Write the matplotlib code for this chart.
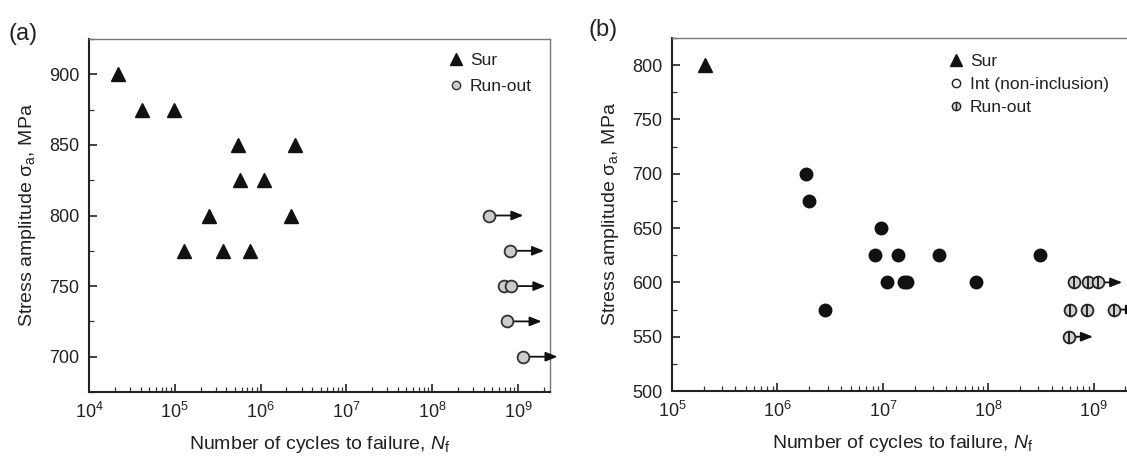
import matplotlib
matplotlib.use("Agg")
import matplotlib.pyplot as plt
import numpy as np
from matplotlib.lines import Line2D
from matplotlib.legend_handler import HandlerTuple
from matplotlib.ticker import MultipleLocator, LogLocator, NullFormatter

plt.rcParams['font.family'] = ['Liberation Sans', 'DejaVu Sans']
plt.rcParams['mathtext.fontset'] = 'custom'
plt.rcParams['mathtext.rm'] = 'Liberation Sans'
plt.rcParams['mathtext.it'] = 'Liberation Sans:italic'

# ---------------- data ----------------
# panel (a)
a_sur_N = [2.2e4, 4.2e4, 9.8e4, 5.5e5, 2.5e6, 5.8e5, 1.1e6, 2.5e5, 2.25e6, 1.27e5, 3.6e5, 7.5e5]
a_sur_S = [900, 875, 875, 850, 850, 825, 825, 800, 800, 775, 775, 775]
a_run_N = [4.6e8, 8.0e8, 6.8e8, 8.3e8, 7.5e8, 1.15e9]
a_run_S = [800, 775, 750, 750, 725, 700]

# panel (b)
b_sur_N = [2.05e5]
b_sur_S = [800]
b_int_N = [1.87e6, 2.0e6, 2.86e6, 9.6e6, 8.5e6, 1.4e7, 3.4e7, 3.1e8, 1.1e7, 1.6e7, 1.7e7, 7.7e7]
b_int_S = [700, 675, 575, 650, 625, 625, 625, 625, 600, 600, 600, 600]
b_run_N = [6.5e8, 8.8e8, 1.1e9, 6.0e8, 8.7e8, 1.55e9, 5.8e8]
b_run_S = [600, 600, 600, 575, 575, 575, 550]

panel_labels = ["(a)", "(b)"]
xlabel = "Number of cycles to failure, $N_\\mathrm{f}$"
ylabel = "Stress amplitude σ$_\\mathrm{a}$, MPa"

TXT = '#222222'

fig = plt.figure(figsize=(11.27, 4.57), dpi=100)
W, H = 1127, 457

def make_ax(l, r, t, b):
    return fig.add_axes([l / W, 1 - b / H, (r - l) / W, (b - t) / H])

axa = make_ax(89, 550, 39, 392)
axb = make_ax(672, 1133, 38, 391)

def style(ax):
    ax.set_xscale('log')
    ax.xaxis.set_major_locator(LogLocator(base=10, numticks=20))
    ax.xaxis.set_minor_locator(LogLocator(base=10, subs=np.arange(2, 10), numticks=50))
    ax.xaxis.set_minor_formatter(NullFormatter())
    ax.yaxis.set_major_locator(MultipleLocator(50))
    ax.yaxis.set_minor_locator(MultipleLocator(25))
    ax.tick_params(which='major', direction='in', length=6, width=1.2, colors='#222222',
                   labelsize=13, labelcolor=TXT, pad=7, top=False, right=False)
    ax.tick_params(which='minor', direction='in', length=3.5, width=0.9, colors='#333333',
                   top=False, right=False)
    for s in ['left', 'bottom']:
        ax.spines[s].set_linewidth(1.5)
        ax.spines[s].set_color('#222222')
    for s in ['top', 'right']:
        ax.spines[s].set_linewidth(1.0)
        ax.spines[s].set_color('#777777')
    ax.set_xlabel(xlabel, fontsize=14, color=TXT, labelpad=9)
    ax.set_ylabel(ylabel, fontsize=14, color=TXT, labelpad=8)

def arrows(ax, N, S, length_dec):
    levels = sorted(set(S))
    for lv in levels:
        nmax = max(n for n, s in zip(N, S) if s == lv)
        ax.annotate('', xy=(nmax * 10 ** length_dec, lv), xytext=(nmax, lv),
                    arrowprops=dict(arrowstyle='-|>,head_length=0.5,head_width=0.2',
                                    color='#111111', lw=1.3,
                                    mutation_scale=14, shrinkA=0, shrinkB=0),
                    annotation_clip=False, zorder=3)

# ---------------- panel (a) ----------------
style(axa)
axa.set_xlim(1e4, 10 ** 9.373)
axa.set_ylim(675, 925)
arrows(axa, a_run_N, a_run_S, 0.40)
axa.plot(a_sur_N, a_sur_S, ls='none', marker='^', ms=10, color='#111111', zorder=4)
axa.plot(a_run_N, a_run_S, ls='none', marker='o', ms=8.5, mfc='#cccccc', mec='#333333',
         mew=1.3, zorder=4)
ha = [Line2D([], [], ls='none', marker='^', ms=9, color='#111111'),
      Line2D([], [], ls='none', marker='o', ms=6, mfc='#cccccc', mec='#333333', mew=1.0)]
lega = axa.legend(ha, ['Sur', 'Run-out'], loc='upper left', bbox_to_anchor=(0.755, 0.995),
                  frameon=False, fontsize=12.5, handlelength=0.8, handletextpad=0.4,
                  labelspacing=0.6, borderaxespad=0.3)
for t in lega.get_texts():
    t.set_color(TXT)

# ---------------- panel (b) ----------------
style(axb)
axb.set_xlim(1e5, 10 ** 9.374)
axb.set_ylim(500, 825)
arrows(axb, b_run_N, b_run_S, 0.23)
axb.plot(b_sur_N, b_sur_S, ls='none', marker='^', ms=10, color='#111111', zorder=4)
axb.plot(b_int_N, b_int_S, ls='none', marker='o', ms=9, color='#111111', zorder=4)
axb.plot(b_run_N, b_run_S, ls='none', marker='o', ms=8.5, mfc='#d0d0d0', mec='#222222',
         mew=1.3, zorder=4)
axb.plot(b_run_N, b_run_S, ls='none', marker='|', ms=8.5, mec='#222222', mew=1.4, zorder=5)
hb = [Line2D([], [], ls='none', marker='^', ms=9, color='#111111'),
      Line2D([], [], ls='none', marker='o', ms=6, mfc='white', mec='#222222', mew=1.0),
      (Line2D([], [], ls='none', marker='o', ms=6, mfc='#d0d0d0', mec='#222222', mew=1.0),
       Line2D([], [], ls='none', marker='|', ms=6, mec='#222222', mew=1.0))]
legb = axb.legend(hb, ['Sur', 'Int (non-inclusion)', 'Run-out'], loc='upper left',
                  bbox_to_anchor=(0.575, 0.99), frameon=False, fontsize=12.5,
                  handlelength=0.8, handletextpad=0.4, labelspacing=0.45, borderaxespad=0.3,
                  handler_map={tuple: HandlerTuple(ndivide=1)})
for t in legb.get_texts():
    t.set_color(TXT)

fig.text(8 / W, 1 - 34 / H, panel_labels[0], fontsize=17, color=TXT, va='center', ha='left')
fig.text(588 / W, 1 - 30 / H, panel_labels[1], fontsize=17, color=TXT, va='center', ha='left')

fig.savefig('out.png', dpi=100)
